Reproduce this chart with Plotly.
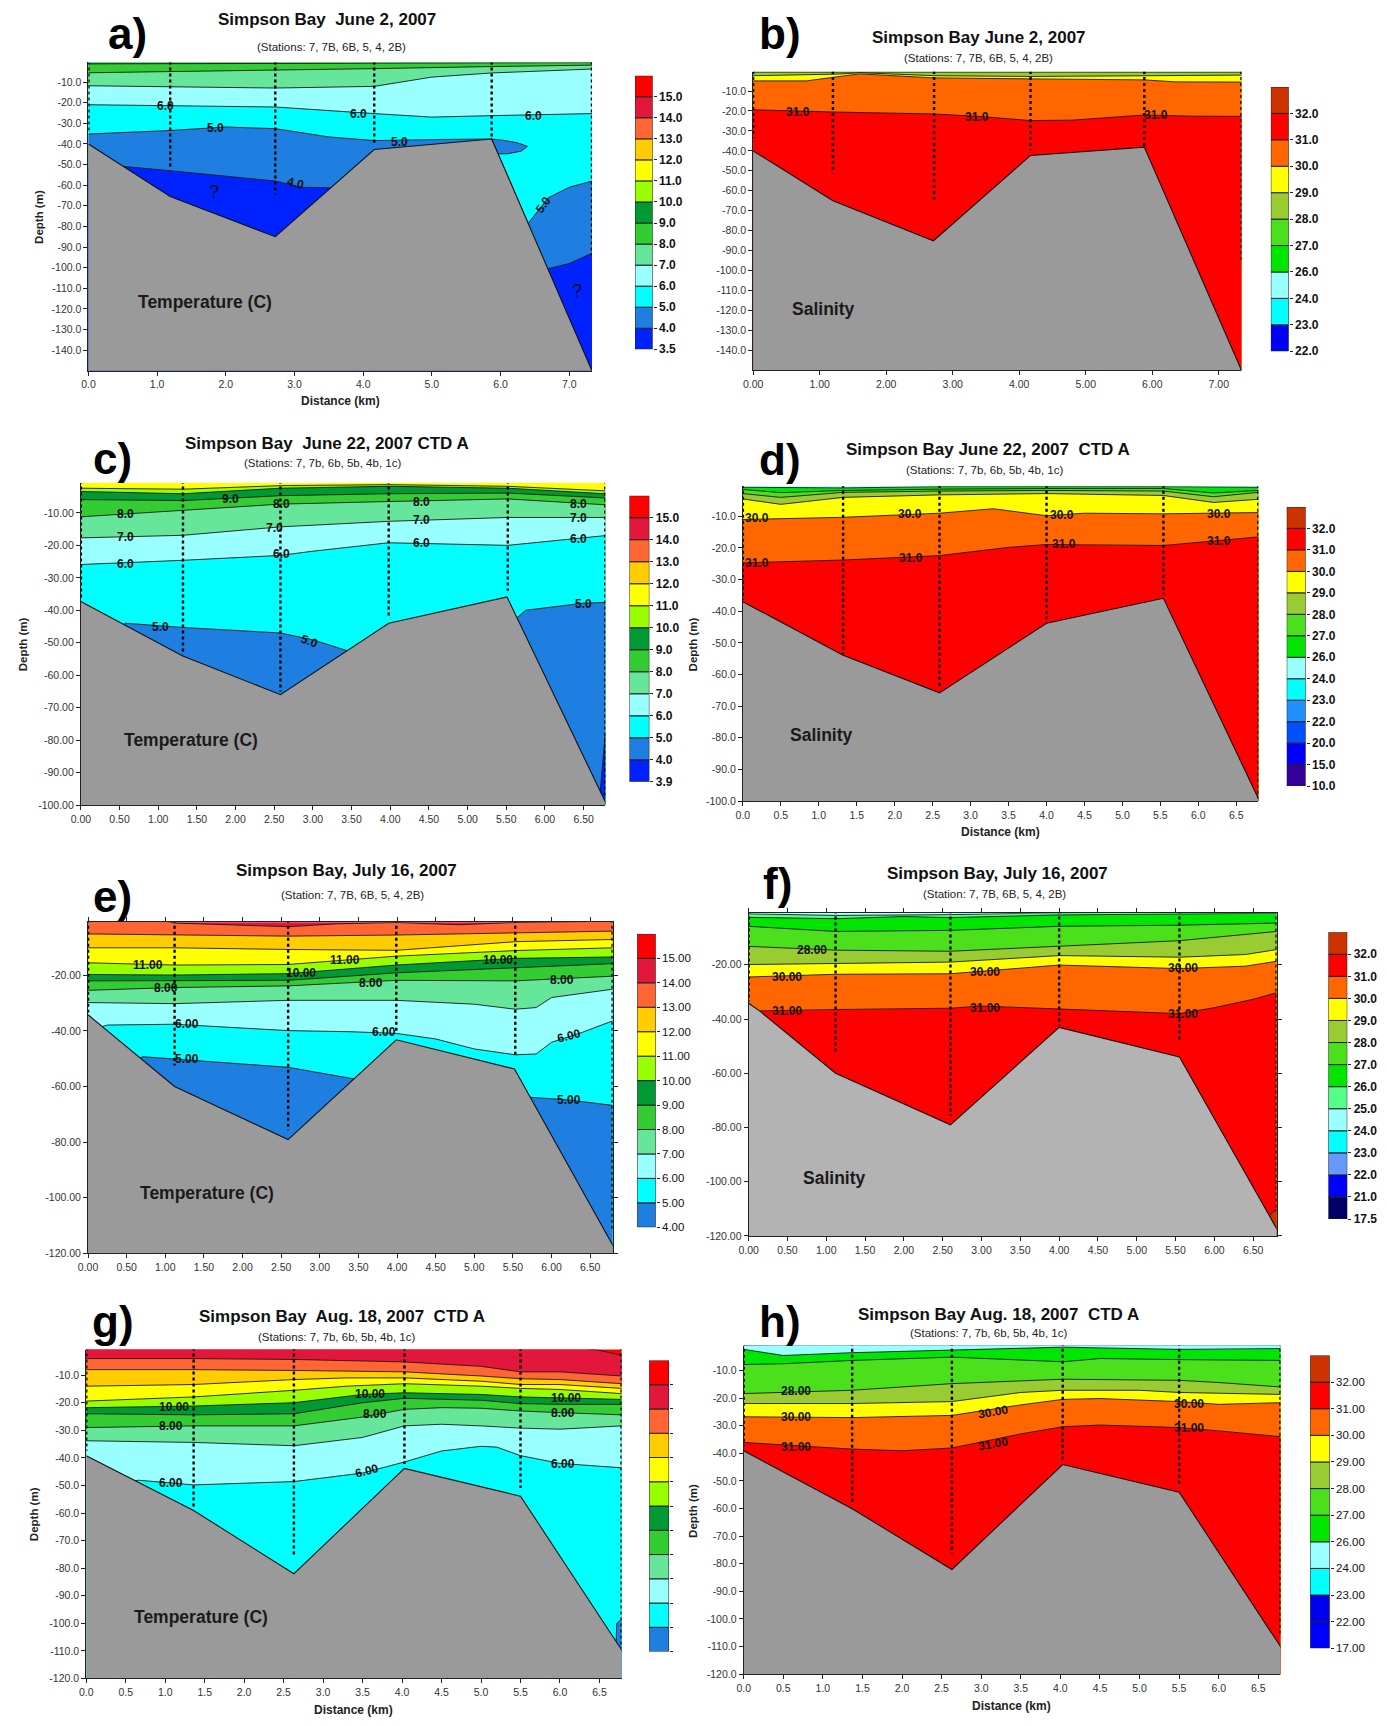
import plotly.graph_objects as go

W, H = 1387, 1726
FONT = "Liberation Sans, Arial, sans-serif"

# ---------------- palette (style) ----------------
RED = "#ff0000"; CRIMSON = "#e3173c"; ORANGE_T = "#ff6633"; AMBER = "#ffcc00"
YELLOW = "#ffff00"; YGREEN = "#99ff00"; DGREEN = "#009933"; GREEN = "#33cc33"
LGREEN = "#66e69a"; LCYAN = "#99ffff"; CYAN = "#00ffff"; MBLUE = "#1e7fe0"; DBLUE = "#0022ff"
BROWN = "#cc3300"; ORANGE_S = "#ff6600"; OLIVE = "#99cc33"; SGREEN = "#4ce01c"
BGREEN = "#00e600"; PGREEN = "#55ff88"; PUREBLUE = "#0000ff"; DODGER = "#1e90ff"
BLUE2 = "#0050ff"; INDIGO = "#330099"; NAVY = "#000066"; SKY = "#6699ff"
GRAY = "#9a9a9a"; GRAY_F = "#b3b3b3"
TEMP13 = [DBLUE, MBLUE, CYAN, LCYAN, LGREEN, GREEN, DGREEN, YGREEN, YELLOW, AMBER, ORANGE_T, CRIMSON, RED]
TEMP12 = [MBLUE, CYAN, LCYAN, LGREEN, GREEN, DGREEN, YGREEN, YELLOW, AMBER, ORANGE_T, CRIMSON, RED]

# ================= DATA =================
# ---- a) Temperature, June 2 ----
A_STATION_X = [0.0, 1.19, 2.72, 4.16, 5.87, 7.33]
A_STATION_BOTTOM = [-34.7, -51.6, -64.5, -39.5, -38.0, -94.0]
A_BATHY_X = [0.0, 1.19, 2.72, 4.16, 5.87, 7.33]
A_BATHY_Z = [-40.0, -65.5, -85.0, -42.7, -37.6, -150.0]
A_ISO_LEVELS = [9.0, 8.0, 7.0, 6.0, 5.0, 4.0]
A_ISO_X = [
    [0, 2.72, 4.16, 7.33],
    [0, 1.19, 2.72, 4.16, 5.87, 7.33],
    [0, 1.19, 2.72, 4.16, 5.0, 5.87, 7.33],
    [0, 1.19, 2.72, 4.16, 5.0, 5.87, 7.33],
    [0, 1.19, 2.0, 2.72, 3.5, 4.16, 5.0, 5.87, 6.4, 6.7, 7.0, 7.33],
    [0, 0.53, 1.19, 2.72, 3.1, 3.55, 3.8, 4.16, 5.87, 6.69, 7.0, 7.2, 7.33],
]
A_ISO_Z = [
    [-1.2, -1.0, -0.8, -0.6],
    [-5.5, -5.0, -4.2, -3.5, -2.5, -1.8],
    [-11.8, -12.4, -12.9, -12.1, -7.6, -5.6, -3.7],
    [-21.0, -21.5, -22.1, -25.3, -27.0, -26.3, -25.3],
    [-35.2, -33.5, -31.8, -32.6, -36.6, -38.4, -37.9, -37.6, -78.5, -66.0, -61.0, -58.0],
    [-52.0, -51.0, -53.0, -58.0, -61.0, -61.3, -75.0, -100.0, -100.0, -100.5, -98.0, -95.0, -93.0],
]
A_PATCH_X = [5.87, 6.05, 6.25, 6.39, 6.3, 6.1, 5.93]
A_PATCH_Z = [-37.6, -38.3, -39.5, -41.2, -43.5, -44.8, -44.8]
A_LABEL_TEXT = ["6.0", "6.0", "6.0", "5.0", "5.0", "4.0", "5.0", "?", "?"]
A_LABEL_X = [1.12, 3.93, 6.48, 1.85, 4.53, 3.01, 6.62, 1.83, 7.11]
A_LABEL_Z = [-21.5, -25.3, -26.3, -32.4, -38.9, -58.9, -69.7, -63.4, -111.5]
A_CBAR_LEVELS = [3.5, 4.0, 5.0, 6.0, 7.0, 8.0, 9.0, 10.0, 11.0, 12.0, 13.0, 14.0, 15.0]
A_XTICKS = [0, 1, 2, 3, 4, 5, 6, 7]
A_YTICKS = [-10, -20, -30, -40, -50, -60, -70, -80, -90, -100, -110, -120, -130, -140]

# ---- b) Salinity, June 2 ----
B_STATION_X = [0.0, 1.2, 2.72, 4.17, 5.88, 7.34]
B_STATION_BOTTOM = [-33.5, -51.3, -64.7, -39.7, -37.6, -95.0]
B_BATHY_X = [0.0, 1.2, 2.71, 4.17, 5.88, 7.34]
B_BATHY_Z = [-40.0, -65.0, -85.1, -42.3, -38.1, -150.0]
B_ISO_LEVELS = [28.0, 29.0, 30.0, 31.0]
B_ISO_X = [
    [0, 7.34],
    [0, 1.3, 1.6, 2.72, 4.17, 5.88, 7.34],
    [0, 0.8, 1.6, 2.72, 4.17, 5.88, 6.35, 7.34],
    [0, 1.2, 2.72, 3.39, 4.17, 4.79, 5.88, 6.59, 7.34],
]
B_ISO_Z = [
    [-0.5, -0.5],
    [-2.3, -1.5, -0.8, -2.3, -2.7, -2.3, -2.0],
    [-4.9, -4.9, -1.4, -3.4, -3.9, -4.4, -5.4, -5.5],
    [-19.4, -20.5, -21.5, -22.7, -24.8, -24.6, -22.0, -22.6, -22.7],
]
B_LABEL_TEXT = ["31.0", "31.0", "31.0"]
B_LABEL_X = [0.67, 3.36, 6.06]
B_LABEL_Z = [-20.4, -23.0, -22.0]
B_CBAR_LEVELS = [22.0, 23.0, 24.0, 26.0, 27.0, 28.0, 29.0, 30.0, 31.0, 32.0]
B_XTICKS = [0, 1, 2, 3, 4, 5, 6, 7]
B_YTICKS = A_YTICKS

# ---- c) Temperature, June 22 ----
C_STATION_X = [0.0, 1.32, 2.58, 3.98, 5.52, 6.78]
C_STATION_BOTTOM = [-36.6, -53.7, -65.0, -42.2, -34.0, -97.4]
C_BATHY_X = [0.0, 1.31, 2.58, 3.98, 5.51, 6.78]
C_BATHY_Z = [-37.3, -54.0, -66.0, -44.0, -35.9, -99.0]
C_ISO_LEVELS = [11.0, 10.0, 9.0, 8.0, 7.0, 6.0, 5.0, 4.0]
C_ISO_X = [
    [0, 1.32, 2.58, 3.98, 5.52, 6.78],
    [0, 1.32, 2.58, 3.98, 5.52, 6.78],
    [0, 1.32, 2.58, 3.98, 5.52, 6.78],
    [0, 1.32, 2.58, 3.98, 5.52, 6.78],
    [0, 1.32, 2.58, 3.98, 5.52, 6.78],
    [0, 1.32, 2.58, 3.0, 3.98, 5.52, 6.78],
    [0, 0.58, 1.32, 2.58, 3.0, 3.45, 3.98, 5.51, 5.75, 6.0, 6.5, 6.78],
    [0, 6.6, 6.7, 6.78],
]
C_ISO_Z = [
    [-2.4, -2.7, -1.6, -1.3, -1.8, -3.2],
    [-3.4, -4.1, -2.4, -1.8, -2.4, -4.1],
    [-5.9, -6.2, -4.7, -4.1, -3.9, -5.4],
    [-11.2, -9.2, -7.3, -6.5, -5.7, -7.5],
    [-17.7, -16.9, -14.3, -12.6, -11.4, -11.4],
    [-25.9, -24.6, -23.1, -21.8, -19.2, -20.0, -17.0],
    [-50.0, -44.0, -45.3, -47.0, -49.1, -52.5, -60.0, -45.0, -40.0, -39.2, -37.8, -37.6],
    [-110.0, -110.0, -100.0, -78.0],
]
C_LABEL_TEXT = ["9.0", "8.0", "8.0", "8.0", "8.0", "7.0", "7.0", "7.0", "7.0",
                "6.0", "6.0", "6.0", "6.0", "5.0", "5.0", "5.0"]
C_LABEL_X = [1.93, 0.58, 2.6, 4.41, 6.44, 0.58, 2.5, 4.41, 6.44, 0.58, 2.6, 4.41, 6.44, 1.03, 2.95, 6.5]
C_LABEL_Z = [-5.7, -10.4, -7.3, -6.7, -7.4, -17.5, -14.7, -12.1, -11.6, -25.6, -22.8, -19.2, -17.9,
             -45.0, -49.4, -38.1]
C_CBAR_LEVELS = [3.9, 4.0, 5.0, 6.0, 7.0, 8.0, 9.0, 10.0, 11.0, 12.0, 13.0, 14.0, 15.0]
C_XTICKS = [0, 0.5, 1, 1.5, 2, 2.5, 3, 3.5, 4, 4.5, 5, 5.5, 6, 6.5]
C_YTICKS = [-10, -20, -30, -40, -50, -60, -70, -80, -90, -100]

# ---- d) Salinity, June 22 ----
D_STATION_X = [0.0, 1.32, 2.59, 4.0, 5.54, 6.79]
D_STATION_BOTTOM = [-36.3, -53.5, -64.5, -42.5, -34.7, -99.0]
D_BATHY_X = [0.0, 1.32, 2.59, 4.0, 5.54, 6.79]
D_BATHY_Z = [-37.0, -53.9, -65.8, -43.8, -35.9, -99.2]
D_ISO_LEVELS = [26.0, 27.0, 28.0, 29.0, 30.0, 31.0]
D_ISO_X = [
    [0, 1.32, 2.59, 4.0, 5.54, 6.79],
    [0, 0.5, 1.32, 2.59, 4.0, 5.54, 6.2, 6.79],
    [0, 0.5, 1.32, 2.59, 4.0, 5.54, 6.2, 6.79],
    [0, 0.5, 1.32, 2.59, 4.0, 5.54, 6.2, 6.79],
    [0, 1.32, 2.59, 3.3, 4.0, 4.5, 5.54, 6.79],
    [0, 1.32, 2.59, 3.5, 4.0, 5.0, 5.54, 6.79],
]
D_ISO_Z = [
    [-0.8, -1.0, -0.6, -0.5, -0.6, -0.8],
    [-1.5, -2.5, -1.8, -1.4, -1.2, -1.2, -2.6, -1.8],
    [-2.8, -4.0, -2.4, -2.0, -1.8, -2.0, -3.8, -2.4],
    [-4.5, -6.2, -4.0, -3.2, -2.8, -3.4, -5.6, -4.6],
    [-11.0, -10.3, -9.0, -7.6, -9.8, -9.0, -9.2, -8.8],
    [-24.7, -23.8, -22.4, -19.8, -18.9, -19.2, -19.2, -16.5],
]
D_LABEL_TEXT = ["30.0", "30.0", "30.0", "30.0", "31.0", "31.0", "31.0", "31.0"]
D_LABEL_X = [0.18, 2.2, 4.2, 6.27, 0.18, 2.21, 4.23, 6.27]
D_LABEL_Z = [-10.5, -9.3, -9.7, -9.3, -24.7, -23.1, -18.8, -17.9]
D_CBAR_LEVELS = [10.0, 15.0, 20.0, 22.0, 23.0, 24.0, 26.0, 27.0, 28.0, 29.0, 30.0, 31.0, 32.0]
D_XTICKS = C_XTICKS
D_YTICKS = C_YTICKS

# ---- e) Temperature, July 16 ----
E_STATION_X = [0.0, 1.12, 2.59, 3.99, 5.53, 6.79]
E_STATION_BOTTOM = [-33.4, -52.5, -75.8, -40.0, -48.6, -111.7]
E_BATHY_X = [0.0, 1.12, 2.59, 3.99, 5.52, 6.79]
E_BATHY_Z = [-34.2, -60.0, -79.1, -43.2, -53.7, -117.0]
E_ISO_LEVELS = [14.0, 13.0, 12.0, 11.0, 10.0, 9.0, 8.0, 7.0, 6.0, 5.0]
E_ISO_X = [
    [0, 0.9, 1.12, 2.0, 2.59, 3.2, 3.99, 4.8, 5.53, 6.79],
    [0, 1.12, 2.59, 3.99, 5.53, 6.79],
    [0, 1.12, 2.59, 3.99, 5.53, 6.79],
    [0, 1.12, 2.59, 3.99, 5.53, 6.79],
    [0, 1.12, 2.59, 3.99, 5.53, 6.79],
    [0, 1.12, 2.59, 3.99, 5.53, 6.79],
    [0, 1.12, 2.59, 3.99, 5.53, 6.79],
    [0, 1.12, 2.59, 3.99, 5.0, 5.53, 5.8, 6.0, 6.79],
    [0, 0.25, 1.12, 2.59, 3.4, 3.99, 4.5, 5.0, 5.53, 5.8, 6.0, 6.4, 6.79],
    [0, 0.5, 0.71, 1.12, 2.59, 3.45, 3.99, 5.53, 5.72, 6.2, 6.79],
]
E_ISO_Z = [
    [0.3, 0.3, -1.2, -2.0, -2.5, -1.5, -1.0, -1.8, -1.0, -0.5],
    [-5.1, -5.5, -5.9, -5.5, -4.7, -4.1],
    [-10.1, -10.1, -10.7, -11.0, -7.9, -7.1],
    [-15.5, -16.3, -16.1, -13.1, -11.1, -10.1],
    [-19.7, -19.9, -19.4, -16.3, -13.9, -13.4],
    [-22.0, -22.0, -21.8, -19.1, -17.3, -15.8],
    [-25.4, -24.4, -23.8, -21.8, -22.0, -20.3],
    [-29.8, -30.2, -29.0, -29.0, -30.4, -32.2, -31.6, -28.0, -25.0],
    [-40.0, -37.9, -37.6, -39.9, -40.3, -40.9, -42.9, -46.5, -48.6, -48.3, -44.1, -40.5, -36.4],
    [-55.0, -52.0, -49.3, -50.1, -53.1, -57.3, -70.0, -70.0, -63.9, -64.8, -66.8],
]
E_LABEL_TEXT = ["11.00", "11.00", "10.00", "10.00", "8.00", "8.00", "8.00",
                "6.00", "6.00", "6.00", "5.00", "5.00"]
E_LABEL_X = [0.77, 3.32, 2.76, 5.3, 1.01, 3.66, 6.13, 1.28, 3.83, 6.22, 1.28, 6.22]
E_LABEL_Z = [-16.3, -14.6, -19.2, -14.6, -24.4, -22.6, -21.8, -37.6, -40.5, -41.7, -50.2, -65.0]
E_CBAR_LEVELS = [4.0, 5.0, 6.0, 7.0, 8.0, 9.0, 10.0, 11.0, 12.0, 13.0, 14.0, 15.0]
E_XTICKS = C_XTICKS
E_YTICKS = [-20, -40, -60, -80, -100, -120]

# ---- f) Salinity, July 16 ----
F_STATION_X = [0.0, 1.12, 2.6, 4.0, 5.55, 6.8]
F_STATION_BOTTOM = [-33.4, -52.3, -75.6, -42.5, -48.6, -111.0]
F_BATHY_X = [0.0, 0.14, 1.12, 2.6, 4.0, 5.55, 6.8]
F_BATHY_Z = [-34.2, -37.0, -60.0, -79.0, -43.1, -54.0, -117.2]
F_ISO_LEVELS = [25.0, 26.0, 27.0, 28.0, 29.0, 30.0, 31.0, 32.0]
F_ISO_X = [
    [0, 1.12, 2.6, 4.0, 5.55, 6.8],
    [0, 1.12, 2.0, 2.6, 4.0, 5.55, 6.8],
    [0, 1.12, 2.6, 4.0, 5.55, 6.5, 6.8],
    [0, 1.12, 2.6, 4.0, 5.55, 6.8],
    [0, 1.12, 2.6, 4.0, 5.55, 6.4, 6.8],
    [0, 1.12, 2.6, 4.0, 5.55, 6.4, 6.8],
    [0, 0.15, 1.12, 2.6, 3.0, 4.0, 5.0, 5.55, 6.0, 6.5, 6.8],
    [0, 6.6, 6.72, 6.8],
]
F_ISO_Z = [
    [-1.2, -1.8, -1.5, -0.8, -0.6, -0.5],
    [-2.5, -3.0, -2.2, -2.6, -1.6, -1.3, -1.0],
    [-5.8, -7.7, -7.3, -5.8, -5.4, -5.0, -4.6],
    [-13.2, -14.6, -15.0, -13.2, -11.1, -7.7],
    [-19.9, -19.6, -19.0, -16.6, -17.2, -16.2, -14.4],
    [-24.5, -23.5, -23.3, -20.1, -21.4, -20.5, -18.7],
    [-38.0, -37.0, -36.5, -36.0, -35.2, -36.4, -37.6, -38.0, -35.8, -32.7, -30.3],
    [-130.0, -130.0, -112.0, -110.0],
]
F_LABEL_TEXT = ["28.00", "30.00", "30.00", "30.00", "31.00", "31.00", "31.00"]
F_LABEL_X = [0.82, 0.5, 3.05, 5.59, 0.5, 3.05, 5.59]
F_LABEL_Z = [-14.4, -24.4, -22.6, -21.1, -37.0, -35.8, -38.2]
F_CBAR_LEVELS = [17.5, 21.0, 22.0, 23.0, 24.0, 25.0, 26.0, 27.0, 28.0, 29.0, 30.0, 31.0, 32.0]
F_XTICKS = C_XTICKS
F_YTICKS = E_YTICKS

# ---- g) Temperature, Aug 18 ----
G_STATION_X = [0.0, 1.36, 2.63, 4.03, 5.5, 6.78]
G_STATION_BOTTOM = [-37.4, -58.1, -75.7, -42.2, -50.9, -109.0]
G_BATHY_X = [0.0, 1.36, 2.63, 4.03, 5.5, 6.78]
G_BATHY_Z = [-39.2, -59.1, -82.0, -43.8, -53.9, -109.6]
G_ISO_LEVELS = [15.0, 14.0, 13.0, 12.0, 11.0, 10.0, 9.0, 8.0, 7.0, 6.0, 5.0]
G_ISO_X = [
    [0, 6.1, 6.5, 6.78],
    [0, 1.36, 2.63, 4.03, 5.0, 5.5, 6.0, 6.78],
    [0, 1.36, 2.63, 4.03, 5.0, 5.5, 6.0, 6.78],
    [0, 1.36, 2.63, 3.3, 4.03, 5.0, 5.5, 6.0, 6.78],
    [0, 1.36, 2.63, 3.3, 4.03, 5.0, 5.5, 6.0, 6.78],
    [0, 1.36, 2.63, 3.5, 4.03, 5.0, 5.5, 6.0, 6.78],
    [0, 1.36, 2.63, 3.5, 4.03, 5.0, 5.5, 6.0, 6.78],
    [0, 1.36, 2.63, 3.5, 4.03, 4.5, 5.0, 5.5, 6.0, 6.78],
    [0, 1.36, 2.63, 3.5, 4.03, 4.5, 5.0, 5.5, 6.0, 6.78],
    [0, 0.66, 1.36, 2.63, 3.5, 4.03, 4.5, 5.0, 5.2, 5.5, 6.0, 6.78],
    [0, 6.6, 6.68, 6.72, 6.78],
]
G_ISO_Z = [
    [0.5, 0.5, -1.0, -2.8],
    [-4.0, -4.0, -4.3, -5.2, -6.8, -8.8, -8.8, -10.3],
    [-8.0, -8.0, -8.3, -8.8, -10.3, -11.3, -11.6, -13.1],
    [-14.0, -13.4, -11.6, -11.0, -11.0, -12.2, -13.4, -13.4, -14.8],
    [-19.4, -17.9, -15.5, -14.0, -13.1, -14.0, -14.8, -15.2, -16.7],
    [-21.8, -21.2, -20.0, -17.0, -16.4, -17.0, -17.9, -18.2, -18.8],
    [-24.0, -24.4, -24.0, -20.0, -18.4, -19.1, -20.3, -20.6, -20.6],
    [-29.0, -28.4, -28.4, -25.2, -22.4, -21.8, -22.0, -23.0, -23.6, -24.4],
    [-33.8, -34.4, -35.6, -32.6, -28.4, -27.8, -28.4, -29.2, -29.6, -28.4],
    [-52.0, -48.1, -49.8, -48.6, -45.5, -41.5, -37.5, -35.8, -36.1, -39.2, -42.0, -43.6],
    [-130.0, -130.0, -130.0, -100.0, -98.5],
]
G_LABEL_TEXT = ["10.00", "10.00", "10.00", "8.00", "8.00", "8.00", "6.00", "6.00", "6.00"]
G_LABEL_X = [1.11, 3.59, 6.08, 1.07, 3.66, 6.04, 1.07, 3.55, 6.04]
G_LABEL_Z = [-21.5, -17.0, -18.2, -28.4, -24.0, -23.6, -49.2, -44.7, -42.2]
G_CBAR_LEVELS = [4.0, 5.0, 6.0, 7.0, 8.0, 9.0, 10.0, 11.0, 12.0, 13.0, 14.0, 15.0]
G_XTICKS = C_XTICKS
G_YTICKS = [-10, -20, -30, -40, -50, -60, -70, -80, -90, -100, -110, -120]

# ---- h) Salinity, Aug 18 ----
H_STATION_X = [0.0, 1.37, 2.63, 4.03, 5.5, 6.78]
H_STATION_BOTTOM = [-37.3, -58.5, -76.3, -42.5, -51.1, -106.2]
H_BATHY_X = [0.0, 1.37, 2.63, 4.03, 5.5, 6.78]
H_BATHY_Z = [-39.1, -60.1, -82.1, -44.1, -54.1, -110.0]
H_ISO_LEVELS = [24.0, 26.0, 27.0, 28.0, 29.0, 30.0, 31.0]
H_ISO_X = [
    [0, 0.8, 1.37, 2.63, 3.5, 6.78],
    [0, 0.5, 1.37, 2.63, 4.03, 5.5, 6.78],
    [0, 0.5, 1.37, 2.63, 4.03, 4.5, 5.5, 6.78],
    [0, 1.37, 2.63, 4.03, 5.5, 6.0, 6.78],
    [0, 1.37, 2.63, 3.5, 4.03, 5.0, 5.5, 6.78],
    [0, 1.37, 2.63, 3.5, 4.03, 4.5, 5.5, 6.0, 6.78],
    [0, 1.37, 2.0, 2.63, 3.5, 4.03, 4.5, 5.5, 6.0, 6.78],
]
H_ISO_Z = [
    [-0.8, -0.6, -0.3, -0.5, -0.2, -0.2],
    [-2.4, -4.6, -3.6, -2.6, -1.6, -2.4, -2.1],
    [-7.9, -7.6, -6.4, -5.2, -6.9, -5.7, -6.1, -6.4],
    [-18.4, -17.2, -14.8, -13.2, -13.6, -14.4, -16.0],
    [-22.0, -22.0, -21.3, -18.0, -17.2, -17.2, -18.0, -18.7],
    [-26.8, -27.1, -26.3, -22.5, -20.5, -20.2, -21.3, -22.3, -21.7],
    [-36.1, -38.5, -39.1, -38.1, -33.0, -30.4, -29.8, -30.7, -31.9, -34.0],
]
H_LABEL_TEXT = ["28.00", "30.00", "30.00", "30.00", "31.00", "31.00", "31.00"]
H_LABEL_X = [0.66, 0.66, 3.15, 5.63, 0.66, 3.15, 5.63]
H_LABEL_Z = [-17.5, -26.8, -24.9, -22.0, -37.6, -36.7, -30.9]
H_CBAR_LEVELS = [17.0, 22.0, 23.0, 24.0, 26.0, 27.0, 28.0, 29.0, 30.0, 31.0, 32.0]
H_XTICKS = C_XTICKS
H_YTICKS = G_YTICKS

# ================= PANEL OPTIONS (layout/style) =================
PANELS = [
    dict(letter="a)", title="Simpson Bay\u00a0 June 2, 2007", sub="(Stations: 7, 7B, 6B, 5, 4, 2B)",
         box=(79.0, 62.7, 586.2, 372.3), xmax=7.33, yr=(-150, -0.5),
         xt=A_XTICKS, xf="{:.1f}", yt=A_YTICKS, yf="{:.1f}", mirror=False,
         sx=A_STATION_X, sb=A_STATION_BOTTOM, bx=A_BATHY_X, bz=A_BATHY_Z, gray=GRAY,
         ix=A_ISO_X, iz=A_ISO_Z, bands=[DGREEN, GREEN, LGREEN, LCYAN, CYAN, MBLUE, DBLUE],
         lt=A_LABEL_TEXT, lx=A_LABEL_X, lz=A_LABEL_Z,
         la=[0, 0, 0, 0, 0, 15, -55, 0, 0],
         cbox=(629.5, 76, 647.3, 350.7), clev=A_CBAR_LEVELS, ccol=TEMP13, cf="{:.1f}", cbold=True, cshow=True,
         lpos=(118, 34), tpos=(319, 20), spos=(324, 47), xtit=(333, 403), ytit=(29, 218),
         name="Temperature (C)", npos=(1.69, -116.5), patch=(A_PATCH_X, A_PATCH_Z, MBLUE)),
    dict(letter="b)", title="Simpson Bay June 2, 2007", sub="(Stations: 7, 7B, 6B, 5, 4, 2B)",
         box=(748.5, 72, 1240.4, 371.7), xmax=7.34, yr=(-150, -0.3),
         xt=B_XTICKS, xf="{:.2f}", yt=B_YTICKS, yf="{:.1f}", mirror=False,
         sx=B_STATION_X, sb=B_STATION_BOTTOM, bx=B_BATHY_X, bz=B_BATHY_Z, gray=GRAY,
         ix=B_ISO_X, iz=B_ISO_Z, bands=[SGREEN, OLIVE, YELLOW, ORANGE_S, RED],
         lt=B_LABEL_TEXT, lx=B_LABEL_X, lz=B_LABEL_Z, la=[0, 0, 0],
         cbox=(1270, 87.3, 1288, 352.7), clev=B_CBAR_LEVELS,
         ccol=[PUREBLUE, CYAN, LCYAN, BGREEN, SGREEN, OLIVE, YELLOW, ORANGE_S, RED, BROWN],
         cf="{:.1f}", cbold=True, cshow=True,
         lpos=(776, 34), tpos=(976, 38), spos=(976, 58), xtit=None, ytit=None,
         name="Salinity", npos=(1.06, -119.4), patch=None),
    dict(letter="c)", title="Simpson Bay\u00a0 June 22, 2007 CTD A", sub="(Stations: 7, 7b, 6b, 5b, 4b, 1c)",
         box=(71.4, 485, 599.6, 808.3), xmax=6.78, yr=(-100, -0.8),
         xt=C_XTICKS, xf="{:.2f}", yt=C_YTICKS, yf="{:.2f}", mirror=False,
         sx=C_STATION_X, sb=C_STATION_BOTTOM, bx=C_BATHY_X, bz=C_BATHY_Z, gray=GRAY,
         ix=C_ISO_X, iz=C_ISO_Z, bands=[YELLOW, YGREEN, DGREEN, GREEN, LGREEN, LCYAN, CYAN, MBLUE, DBLUE],
         lt=C_LABEL_TEXT, lx=C_LABEL_X, lz=C_LABEL_Z, la=[0] * 14 + [20, 0],
         cbox=(624, 497.7, 644, 785), clev=C_CBAR_LEVELS, ccol=TEMP13, cf="{:.1f}", cbold=True, cshow=True,
         lpos=(103, 460), tpos=(319, 445), spos=(315, 465), xtit=None, ytit=(13, 647),
         name="Temperature (C)", npos=(1.42, -80), patch=None),
    dict(letter="d)", title="Simpson Bay June 22, 2007\u00a0 CTD A", sub="(Stations: 7, 7b, 6b, 5b, 4b, 1c)",
         box=(738.2, 488.3, 1257.4, 804.3), xmax=6.79, yr=(-100, -0.5),
         xt=D_XTICKS, xf="{:.1f}", yt=D_YTICKS, yf="{:.1f}", mirror=False,
         sx=D_STATION_X, sb=D_STATION_BOTTOM, bx=D_BATHY_X, bz=D_BATHY_Z, gray=GRAY,
         ix=D_ISO_X, iz=D_ISO_Z, bands=[LCYAN, BGREEN, SGREEN, OLIVE, YELLOW, ORANGE_S, RED],
         lt=D_LABEL_TEXT, lx=D_LABEL_X, lz=D_LABEL_Z, la=[0] * 8,
         cbox=(1286, 509, 1305, 789.3), clev=D_CBAR_LEVELS,
         ccol=[INDIGO, PUREBLUE, BLUE2, DODGER, CYAN, LCYAN, BGREEN, SGREEN, OLIVE, YELLOW, ORANGE_S, RED, BROWN],
         cf="{:.1f}", cbold=True, cshow=True,
         lpos=(776, 461), tpos=(985, 451), spos=(982, 472), xtit=(998, 835), ytit=(688, 647),
         name="Salinity", npos=(1.03, -79), patch=None),
    dict(letter="e)", title="Simpson Bay, July 16, 2007", sub="(Station: 7, 7B, 6B, 5, 4, 2B)",
         box=(78.6, 926, 607, 1258.3), xmax=6.79, yr=(-120, -0.9),
         xt=E_XTICKS, xf="{:.2f}", yt=E_YTICKS, yf="{:.2f}", mirror=True,
         sx=E_STATION_X, sb=E_STATION_BOTTOM, bx=E_BATHY_X, bz=E_BATHY_Z, gray=GRAY,
         ix=E_ISO_X, iz=E_ISO_Z,
         bands=[ORANGE_T, CRIMSON, ORANGE_T, AMBER, YELLOW, YGREEN, DGREEN, GREEN, LGREEN, LCYAN, CYAN, MBLUE][1:],
         lt=E_LABEL_TEXT, lx=E_LABEL_X, lz=E_LABEL_Z, la=[0] * 9 + [-15, 0, 0],
         cbox=(631.7, 937.7, 650.4, 1232.3), clev=E_CBAR_LEVELS, ccol=TEMP12, cf="{:.2f}", cbold=False, cshow=True,
         lpos=(103, 900), tpos=(339, 874), spos=(345, 899), xtit=None, ytit=None,
         name="Temperature (C)", npos=(1.54, -98.5), patch=None),
    dict(letter="f)", title="Simpson Bay, July 16, 2007", sub="(Station: 7, 7B, 6B, 5, 4, 2B)",
         box=(744, 917, 1275.7, 1241), xmax=6.8, yr=(-120, -1.0),
         xt=F_XTICKS, xf="{:.2f}", yt=F_YTICKS, yf="{:.2f}", mirror=True,
         sx=F_STATION_X, sb=F_STATION_BOTTOM, bx=F_BATHY_X, bz=F_BATHY_Z, gray=GRAY_F,
         ix=F_ISO_X, iz=F_ISO_Z,
         bands=[LCYAN, PGREEN, BGREEN, SGREEN, OLIVE, YELLOW, ORANGE_S, RED, BROWN],
         lt=F_LABEL_TEXT, lx=F_LABEL_X, lz=F_LABEL_Z, la=[0] * 7,
         cbox=(1328, 936, 1347, 1224), clev=F_CBAR_LEVELS,
         ccol=[NAVY, PUREBLUE, SKY, CYAN, LCYAN, PGREEN, BGREEN, SGREEN, OLIVE, YELLOW, ORANGE_S, RED, BROWN],
         cf="{:.1f}", cbold=True, cshow=True,
         lpos=(773, 887), tpos=(995, 877), spos=(992, 898), xtit=None, ytit=None,
         name="Salinity", npos=(1.11, -98.8), patch=None),
    dict(letter="g)", title="Simpson Bay\u00a0 Aug. 18, 2007\u00a0 CTD A", sub="(Stations: 7, 7b, 6b, 5b, 4b, 1c)",
         box=(76.8, 1355, 616, 1685.3), xmax=6.78, yr=(-120, -0.7),
         xt=G_XTICKS, xf="{:.1f}", yt=G_YTICKS, yf="{:.1f}", mirror=False,
         sx=G_STATION_X, sb=G_STATION_BOTTOM, bx=G_BATHY_X, bz=G_BATHY_Z, gray=GRAY,
         ix=G_ISO_X, iz=G_ISO_Z,
         bands=[RED, CRIMSON, ORANGE_T, AMBER, YELLOW, YGREEN, DGREEN, GREEN, LGREEN, LCYAN, CYAN, MBLUE],
         lt=G_LABEL_TEXT, lx=G_LABEL_X, lz=G_LABEL_Z, la=[0] * 7 + [-15, 0],
         cbox=(643.8, 1366, 663.8, 1658.3), clev=G_CBAR_LEVELS, ccol=TEMP12, cf="{:.2f}", cbold=False, cshow=False,
         lpos=(104, 1327), tpos=(334, 1322), spos=(329, 1342), xtit=(346, 1717), ytit=(24.5, 1520),
         name="Temperature (C)", npos=(1.45, -97.8), patch=None),
    dict(letter="h)", title="Simpson Bay Aug. 18, 2007\u00a0 CTD A", sub="(Stations: 7, 7b, 6b, 5b, 4b, 1c)",
         box=(739, 1351, 1279.7, 1681), xmax=6.78, yr=(-120, -1.0),
         xt=H_XTICKS, xf="{:.1f}", yt=H_YTICKS, yf="{:.1f}", mirror=False,
         sx=H_STATION_X, sb=H_STATION_BOTTOM, bx=H_BATHY_X, bz=H_BATHY_Z, gray=GRAY,
         ix=H_ISO_X, iz=H_ISO_Z,
         bands=[PUREBLUE, LCYAN, BGREEN, SGREEN, OLIVE, YELLOW, ORANGE_S, RED],
         lt=H_LABEL_TEXT, lx=H_LABEL_X, lz=H_LABEL_Z, la=[0, 0, -10, 0, 0, -10, 0],
         cbox=(1309.6, 1361, 1329.3, 1655), clev=H_CBAR_LEVELS,
         ccol=[PUREBLUE, "#0000ee", CYAN, LCYAN, BGREEN, SGREEN, OLIVE, YELLOW, ORANGE_S, RED, BROWN],
         cf="{:.2f}", cbold=False, cshow=True,
         lpos=(776, 1327), tpos=(996, 1320), spos=(986, 1338), xtit=(1009, 1713), ytit=(688, 1517),
         name=None, npos=None, patch=None),
]


def aname(n, kind):
    return kind if n == 1 else f"{kind}{n}"


def lkey(n, kind):
    return f"{kind}axis" if n == 1 else f"{kind}axis{n}"


def ptxt(x, y, text, size, angle=0, color="#111111", anchor="center"):
    return dict(x=x / W, y=1 - y / H, xref="paper", yref="paper", text=text, showarrow=False,
                font=dict(family=FONT, size=size, color=color), textangle=angle,
                xanchor=anchor, yanchor="middle")


fig = go.Figure()
layout_axes = {}
annotations = []

for i, p in enumerate(PANELS):
    n_main, n_cb = 2 * i + 1, 2 * i + 2
    xr, yr = aname(n_main, "x"), aname(n_main, "y")
    ymin, ytop = p["yr"]
    xmax = p["xmax"]
    deep = ymin - 60

    # ---- filled bands, painted from the surface downward ----
    uppers = [([-1, xmax + 1], [10, 10])] + list(zip(p["ix"], p["iz"]))
    for (ux, uz), color in zip(uppers, p["bands"]):
        ux, uz = list(ux), list(uz)
        px = [-1] + ux + [ux[-1] + 1, ux[-1] + 1, -1]
        pz = [uz[0]] + uz + [uz[-1], deep, deep]
        fig.add_trace(go.Scatter(x=px, y=pz, mode="lines", fill="toself", fillcolor=color,
                                 line=dict(width=0), hoverinfo="skip", showlegend=False,
                                 xaxis=xr, yaxis=yr))
    if p["patch"] is not None:
        qx, qz, qc = p["patch"]
        fig.add_trace(go.Scatter(x=list(qx) + [qx[0]], y=list(qz) + [qz[0]], mode="lines", fill="toself",
                                 fillcolor=qc, line=dict(width=0.9, color="#1a1a1a"),
                                 hoverinfo="skip", showlegend=False, xaxis=xr, yaxis=yr))

    # ---- contour lines ----
    lx, lz = [], []
    for xs, zs in zip(p["ix"], p["iz"]):
        lx += list(xs) + [None]
        lz += list(zs) + [None]
    fig.add_trace(go.Scatter(x=lx, y=lz, mode="lines", line=dict(color="#1a1a1a", width=0.9),
                             hoverinfo="skip", showlegend=False, xaxis=xr, yaxis=yr))

    # ---- seafloor ----
    bx = list(p["bx"]) + [p["bx"][-1] + 1, -1]
    bz = list(p["bz"]) + [deep, deep]
    fig.add_trace(go.Scatter(x=bx, y=bz, mode="lines", fill="toself", fillcolor=p["gray"],
                             line=dict(color="#111111", width=1.1), hoverinfo="skip",
                             showlegend=False, xaxis=xr, yaxis=yr))

    # ---- CTD station casts ----
    sx, sz = [], []
    for s, b in zip(p["sx"], p["sb"]):
        sx += [s, s, None]
        sz += [0, b, None]
    fig.add_trace(go.Scatter(x=sx, y=sz, mode="lines", line=dict(color="black", width=2.4, dash="dot"),
                             hoverinfo="skip", showlegend=False, xaxis=xr, yaxis=yr))

    # ---- contour labels ----
    for t, x, z, a in zip(p["lt"], p["lx"], p["lz"], p["la"]):
        big = t == "?"
        annotations.append(dict(x=x, y=z, xref=xr, yref=yr, text=t if big else f"<b>{t}</b>",
                                showarrow=False, textangle=a,
                                font=dict(family=FONT, size=18 if big else 12, color="#111111")))
    if p["name"]:
        annotations.append(dict(x=p["npos"][0], y=p["npos"][1], xref=xr, yref=yr,
                                text=f"<b>{p['name']}</b>", showarrow=False,
                                font=dict(family=FONT, size=17.5, color="#1a1a1a")))

    # ---- axes ----
    x0, y0, x1, y1 = p["box"]
    tickfont = dict(family=FONT, size=10.5, color="#333333")
    layout_axes[lkey(n_main, "x")] = dict(
        domain=[x0 / W, x1 / W], range=[0, xmax], anchor=yr, showgrid=False, zeroline=False,
        tickvals=p["xt"], ticktext=[p["xf"].format(v) for v in p["xt"]],
        showline=True, linecolor="#222222", linewidth=1, ticks="outside", ticklen=4,
        tickcolor="#222222", tickfont=tickfont, mirror="ticks" if p["mirror"] else False)
    layout_axes[lkey(n_main, "y")] = dict(
        domain=[1 - y1 / H, 1 - y0 / H], range=[ymin, ytop], anchor=xr, showgrid=False, zeroline=False,
        tickvals=p["yt"], ticktext=[p["yf"].format(v) for v in p["yt"]],
        showline=True, linecolor="#222222", linewidth=1, ticks="outside", ticklen=4,
        tickcolor="#222222", tickfont=tickfont, mirror="ticks" if p["mirror"] else False)

    # ---- colour key ----
    cx0, cy0, cx1, cy1 = p["cbox"]
    xc, yc = aname(n_cb, "x"), aname(n_cb, "y")
    nb = len(p["clev"])
    fig.add_trace(go.Bar(x=[0] * nb, y=[1] * nb, base=list(range(nb)), width=1,
                         marker=dict(color=p["ccol"], line=dict(color="#222222", width=1)),
                         hoverinfo="skip", showlegend=False, xaxis=xc, yaxis=yc))
    layout_axes[lkey(n_cb, "x")] = dict(domain=[cx0 / W, cx1 / W], range=[-0.5, 0.5], anchor=yc,
                                        visible=False, fixedrange=True)
    layout_axes[lkey(n_cb, "y")] = dict(
        domain=[1 - cy1 / H, 1 - cy0 / H], range=[0, nb], anchor=xc, side="right",
        showgrid=False, zeroline=False, showline=False,
        tickvals=list(range(nb)), ticktext=[p["cf"].format(v) for v in p["clev"]],
        showticklabels=p["cshow"], ticks="outside", ticklen=3, tickcolor="#222222",
        tickfont=dict(family=FONT, size=12 if p["cbold"] else 11.5, color="#111111",
                      weight="bold" if p["cbold"] else "normal"))

    # ---- panel texts ----
    annotations.append(ptxt(*p["lpos"], f"<b>{p['letter']}</b>", 44, color="black"))
    annotations.append(ptxt(*p["tpos"], f"<b>{p['title']}</b>", 17, color="#111111"))
    annotations.append(ptxt(*p["spos"], p["sub"], 11.5, color="#222222"))
    if p["xtit"]:
        annotations.append(ptxt(*p["xtit"], "<b>Distance (km)</b>", 12, color="#222222"))
    if p["ytit"]:
        annotations.append(ptxt(*p["ytit"], "<b>Depth (m)</b>", 11.5, angle=-90, color="#222222"))

fig.update_layout(width=W, height=H, margin=dict(l=0, r=0, t=0, b=0),
                  paper_bgcolor="white", plot_bgcolor="white", showlegend=False,
                  barmode="overlay", annotations=annotations, **layout_axes)

fig.write_html("out.html")
